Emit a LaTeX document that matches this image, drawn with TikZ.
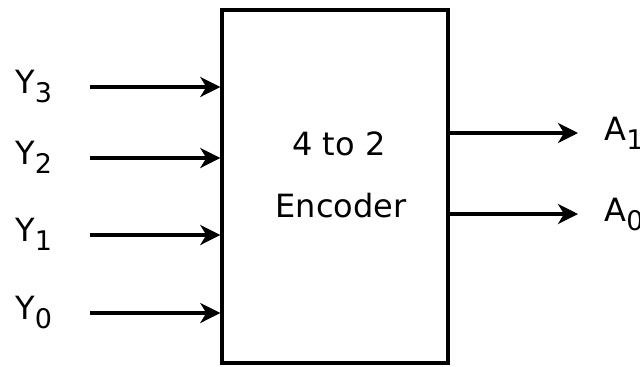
\documentclass[tikz,border=0pt]{standalone}
\usepackage{fontspec}
\setmainfont{DejaVu Sans}
\usetikzlibrary{arrows.meta}
\newcommand\subtxt[1]{\raisebox{-0.3em}{\fontsize{13.5}{13.5}\selectfont#1}}
\begin{document}
\begin{tikzpicture}[x=0.5pt,y=0.5pt,
    sig/.style={line width=1.7pt,-{Stealth[length=10pt,width=10pt,inset=3pt]}},
    lbl/.style={inner sep=0pt,anchor=base west,font=\fontsize{16}{19}\selectfont},
    txt/.style={inner sep=0pt,anchor=base,font=\fontsize{16}{19}\selectfont}]
  \useasboundingbox (0,0) rectangle (640,366);
  \node[draw,line width=1.7pt,minimum width=113pt,minimum height=176.5pt,inner sep=0pt] (enc) at (335,179.5) {};
  \node[txt] (top) at (339,211) {4 to 2};
  \node[txt] (name) at (341,149) {Encoder};
  % inputs
  \node[lbl] (y3) at (15,273) {Y\subtxt{3}};
  \node[lbl] (y2) at (15,202) {Y\subtxt{2}};
  \node[lbl] (y1) at (15,125) {Y\subtxt{1}};
  \node[lbl] (y0) at (15,47) {Y\subtxt{0}};
  \coordinate (y3s) at (90,279);
  \coordinate (y2s) at (90,208);
  \coordinate (y1s) at (90,131);
  \coordinate (y0s) at (90,53);
  \draw[sig] (y3s) -- (enc.west |- y3s);
  \draw[sig] (y2s) -- (enc.west |- y2s);
  \draw[sig] (y1s) -- (enc.west |- y1s);
  \draw[sig] (y0s) -- (enc.west |- y0s);
  % outputs
  \node[lbl] (a1) at (604,226) {A\subtxt{1}};
  \node[lbl] (a0) at (604,145) {A\subtxt{0}};
  \coordinate (a1e) at (578,233);
  \coordinate (a0e) at (578,152);
  \draw[sig] (enc.east |- a1e) -- (a1e);
  \draw[sig] (enc.east |- a0e) -- (a0e);
\end{tikzpicture}
\end{document}
